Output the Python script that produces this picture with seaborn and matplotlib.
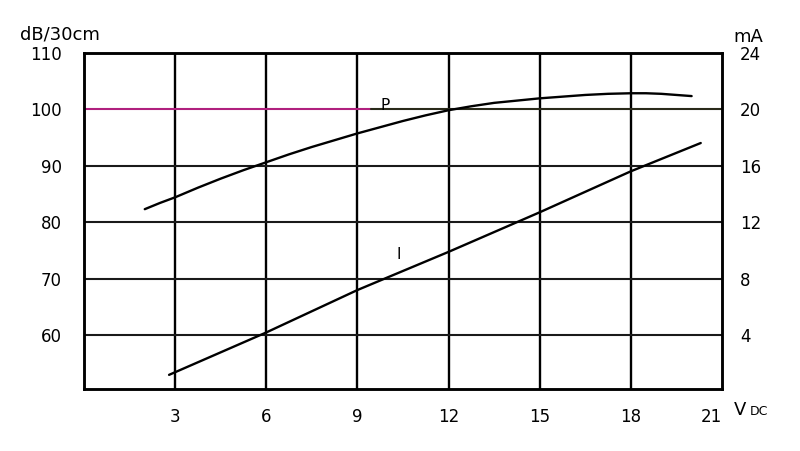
import matplotlib
matplotlib.use('Agg')
import matplotlib.pyplot as plt
import seaborn as sns
import pandas as pd

# P curve (sound level, left axis dB/30cm)
p_volts = [2.0, 2.5, 3, 3.75, 4.5, 5.25, 6, 6.75, 7.5, 8.25, 9, 9.75, 10.5, 11.25, 12,
           12.75, 13.5, 14.25, 15, 15.75, 16.5, 17.25, 18, 18.5, 19, 19.5, 20.0]
p_db = [82.3, 83.4, 84.4, 86.1, 87.7, 89.2, 90.6, 92.0, 93.3, 94.5, 95.7, 96.8, 97.9, 98.9, 99.8,
        100.5, 101.1, 101.5, 101.9, 102.2, 102.5, 102.7, 102.8, 102.8, 102.7, 102.5, 102.3]

# I curve (current, right axis mA)
i_volts = [2.8, 6, 9, 12, 15, 18, 20.3]
i_ma = [1.2, 4.2, 7.2, 9.9, 12.7, 15.6, 17.6]

x_ticks = [3, 6, 9, 12, 15, 18, 21]
db_ticks = [60, 70, 80, 90, 100, 110]
ma_ticks = [4, 8, 12, 16, 20, 24]

sns.set_style('white')
plt.rcParams['font.family'] = ['DejaVu Sans']
plt.rcParams['text.color'] = 'black'
plt.rcParams['xtick.color'] = 'black'
plt.rcParams['ytick.color'] = 'black'

fig = plt.figure(figsize=(8, 4.51), dpi=100)
ax = fig.add_axes([0.105, 0.1375, 0.7975, 0.746])
ax2 = ax.twinx()

p_df = pd.DataFrame({'V': p_volts, 'dB': p_db})
i_df = pd.DataFrame({'V': i_volts, 'mA': i_ma})

# grid
for x in x_ticks[:-1]:
    ax.axvline(x, color='black', lw=1.7, zorder=1)
for y in db_ticks[:-2]:
    ax.axhline(y, color='#1a1a1a', lw=1.5, zorder=1)
ax.axhline(100, xmin=0, xmax=0.45, color='#b0207e', lw=1.5, zorder=1)
ax.axhline(100, xmin=0.45, xmax=1, color='#2a2a1a', lw=1.5, zorder=1)

sns.lineplot(data=p_df, x='V', y='dB', ax=ax, color='black', lw=1.7, zorder=3)
sns.lineplot(data=i_df, x='V', y='mA', ax=ax2, color='black', lw=1.7, zorder=3)

ax.set_xlim(0, 21)
ax.set_ylim(50.5, 110)
ax2.set_ylim(0.2, 24)

ax.set_xticks(x_ticks)
ax.set_yticks(db_ticks)
ax2.set_yticks(ma_ticks)
ax.tick_params(axis='x', length=0, pad=14, labelsize=12)
ax.tick_params(axis='y', length=0, pad=16, labelsize=12)
ax2.tick_params(axis='y', length=0, pad=13, labelsize=12)
ax.get_xticklabels()[-1].set_ha('right')
for a in (ax, ax2):
    for s in a.spines.values():
        s.set_linewidth(1.8)
        s.set_color('black')
ax.set_xlabel('')
ax.set_ylabel('')
ax2.set_ylabel('')

ax.text(9.9, 99.3, 'P', fontsize=11, ha='center', va='bottom')
ax.text(10.35, 72.9, 'I', fontsize=11, ha='center', va='bottom')

fig.text(0.025, 0.903, 'dB/30cm', fontsize=13, ha='left', va='bottom')
fig.text(0.917, 0.898, 'mA', fontsize=13, ha='left', va='bottom')
fig.text(0.917, 0.092, 'V', fontsize=13, ha='left', va='center')
fig.text(0.937, 0.088, 'DC', fontsize=9, ha='left', va='center')

fig.savefig('out.png', dpi=100)
